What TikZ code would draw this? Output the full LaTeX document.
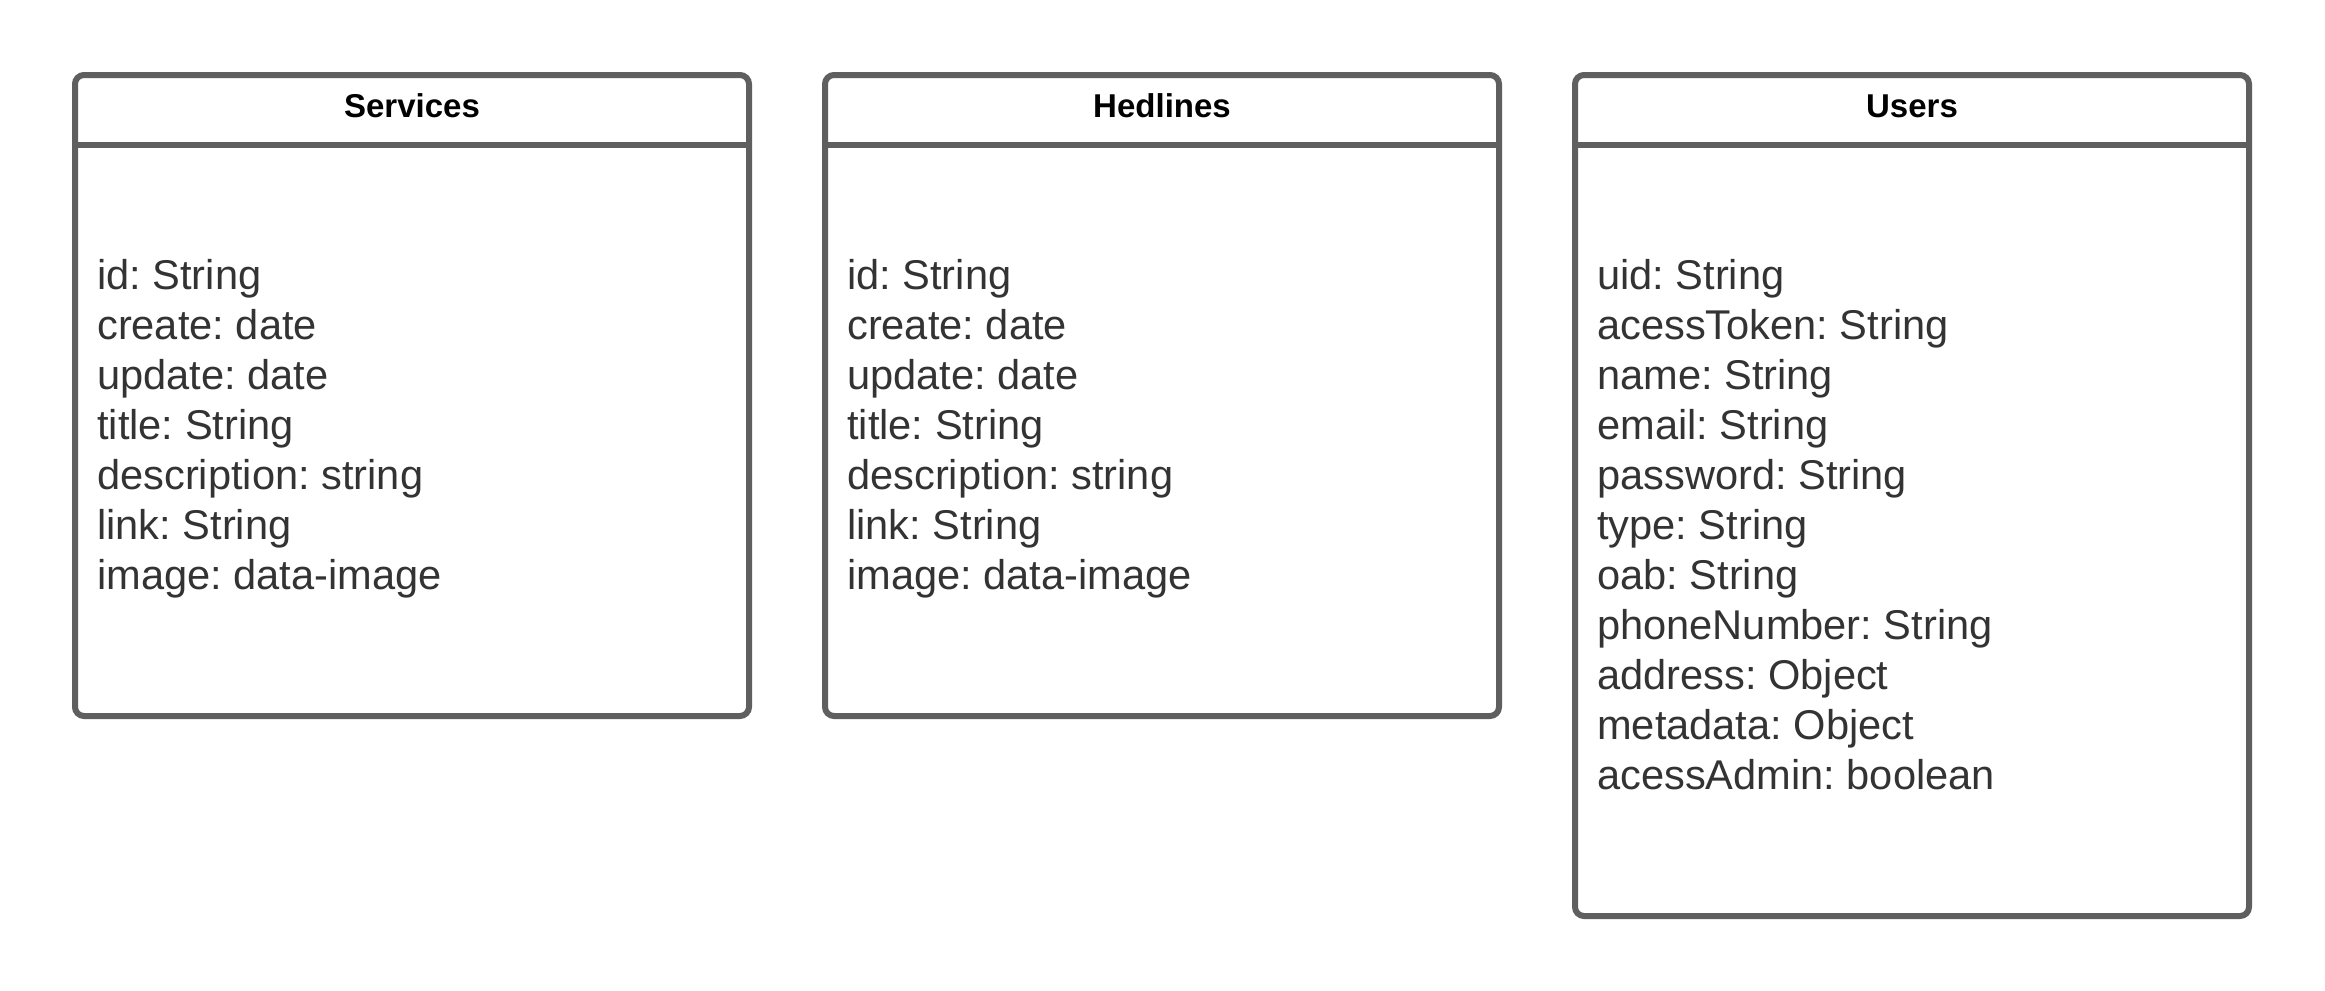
\documentclass[tikz,border=0pt]{standalone}
\usepackage{fontspec}
\setmainfont{Liberation Sans}
\frenchspacing
\definecolor{boxline}{HTML}{5F5F5F}
\definecolor{attrtext}{HTML}{333333}
\tikzset{
  classbox/.style={draw=boxline, line width=6pt, rounded corners=9pt, fill=white},
  sepline/.style={draw=boxline, line width=6pt},
  classtitle/.style={anchor=base, inner sep=0pt, text=black, font=\fontsize{33}{40}\selectfont\bfseries},
  attr/.style={anchor=base west, inner sep=0pt, text=attrtext, font=\fontsize{41.6}{50}\selectfont\frenchspacing},
}
\begin{document}
\begin{tikzpicture}[x=1pt,y=-1pt]
\useasboundingbox (0,0) rectangle (2325,990);
% Services
\draw[classbox] (75,75) rectangle (749,716);
\coordinate (sL) at (75,145); \coordinate (sR) at (749,145);
\draw[sepline] (sL) -- (sR);
\node[classtitle] (svcT) at (412,117) {Services};
\foreach [count=\i] \t in {id: String, create: date, update: date, title: String, description: string, link: String, image: data-image}
  \node[attr] (svc\i) at (97,{289+50*(\i-1)}) {\t};
% Hedlines
\draw[classbox] (825,75) rectangle (1499,716);
\coordinate (hL) at (825,145); \coordinate (hR) at (1499,145);
\draw[sepline] (hL) -- (hR);
\node[classtitle] (hedT) at (1162,117) {Hedlines};
\foreach [count=\i] \t in {id: String, create: date, update: date, title: String, description: string, link: String, image: data-image}
  \node[attr] (hed\i) at (847,{289+50*(\i-1)}) {\t};
% Users
\draw[classbox] (1575,75) rectangle (2249,916);
\coordinate (uL) at (1575,145); \coordinate (uR) at (2249,145);
\draw[sepline] (uL) -- (uR);
\node[classtitle] (usrT) at (1912,117) {Users};
\foreach [count=\i] \t in {uid: String, acessToken: String, name: String, email: String, password: String, type: String, oab: String, phoneNumber: String, address: Object, metadata: Object, acessAdmin: boolean}
  \node[attr] (usr\i) at (1597,{289+50*(\i-1)}) {\t};
\end{tikzpicture}
\end{document}
